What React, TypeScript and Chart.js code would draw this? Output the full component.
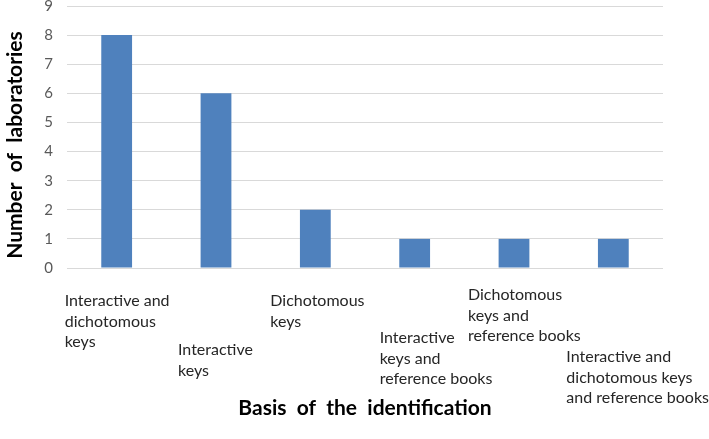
import React, { useEffect, useRef } from "react";
import { Chart, registerables } from "chart.js";

Chart.register(...registerables);

const categories: string[][] = [
  ["Interactive and", "dichotomous", "keys"],
  ["Interactive", "keys"],
  ["Dichotomous", "keys"],
  ["Interactive", "keys and", "reference books"],
  ["Dichotomous", "keys and", "reference books"],
  ["Interactive and", "dichotomous keys", "and reference books"],
];
const laboratories: number[] = [8, 6, 2, 1, 1, 1];
const yAxisTitle = "Number  of  laboratories";
const xAxisTitle = "Basis  of  the  identification";
const yMin = 0;
const yMax = 9;
const yStep = 1;

// label placement (style): left edge offset from category centre, first-line offset below axis
const labelDx: number[] = [-52, -38, -45, -35, -46, -47];
const labelDy: number[] = [33, 82, 33, 70, 27, 89];
const labelLineHeight = 20.5;
const yTitleX = 15;
const yTitleCenterShift = 8;

const customText = {
  id: "customText",
  afterDraw(chart: any) {
    const { ctx, chartArea } = chart;
    const xs = chart.scales.x;
    ctx.save();
    ctx.font = "16px Lato";
    ctx.fillStyle = "#262626";
    ctx.textAlign = "left";
    ctx.textBaseline = "middle";
    categories.forEach((lines, i) => {
      const cx = xs.getPixelForValue(i);
      lines.forEach((line, j) => {
        ctx.fillText(line, cx + labelDx[i], chartArea.bottom + labelDy[i] + j * labelLineHeight);
      });
    });
    ctx.restore();

    ctx.save();
    ctx.font = "bold 21px Lato";
    ctx.fillStyle = "#000000";
    ctx.textAlign = "center";
    ctx.textBaseline = "middle";
    ctx.translate(yTitleX, (chartArea.top + chartArea.bottom) / 2 + yTitleCenterShift);
    ctx.rotate(-Math.PI / 2);
    ctx.fillText(yAxisTitle, 0, 0);
    ctx.restore();
  },
};

export default function App() {
  const ref = useRef<HTMLCanvasElement | null>(null);
  useEffect(() => {
    document.body.style.margin = "0";
    const canvas = ref.current;
    if (!canvas) return;
    const chart = new Chart(canvas, {
      type: "bar",
      data: {
        labels: categories.map((c) => c.join(" ")),
        datasets: [
          {
            data: laboratories,
            backgroundColor: "#4f81bd",
            borderWidth: 0,
            barPercentage: 0.31,
            categoryPercentage: 1,
          },
        ],
      },
      options: {
        animation: false,
        responsive: false,
        layout: { padding: { left: 0, right: 46, top: 0, bottom: 0 } },
        plugins: { legend: { display: false }, tooltip: { enabled: false } },
        scales: {
          x: {
            grid: { display: false },
            border: { display: false },
            ticks: { display: false },
            afterFit: (scale: any) => {
              scale.height = 171;
            },
            title: {
              display: true,
              text: xAxisTitle,
              font: { family: "Lato", size: 21, weight: "bold" },
              color: "#000000",
              padding: { top: 0, bottom: 18 },
            },
          },
          y: {
            min: yMin,
            max: yMax,
            grid: { color: "#d9d9d9", lineWidth: 1, drawTicks: false },
            border: { display: false },
            ticks: {
              stepSize: yStep,
              padding: 14,
              color: "#595959",
              font: { family: "Lato", size: 15, lineHeight: 0.8 },
            },
            afterFit: (scale: any) => {
              scale.width = 67;
              scale.paddingTop = 6;
              scale.paddingBottom = 0;
            },
            title: { display: false },
          },
        },
      },
      plugins: [customText],
    });
    return () => chart.destroy();
  }, []);
  return (
    <div style={{ width: 709, height: 439 }}>
      <canvas ref={ref} width={709} height={439} style={{ display: "block" }} />
    </div>
  );
}
